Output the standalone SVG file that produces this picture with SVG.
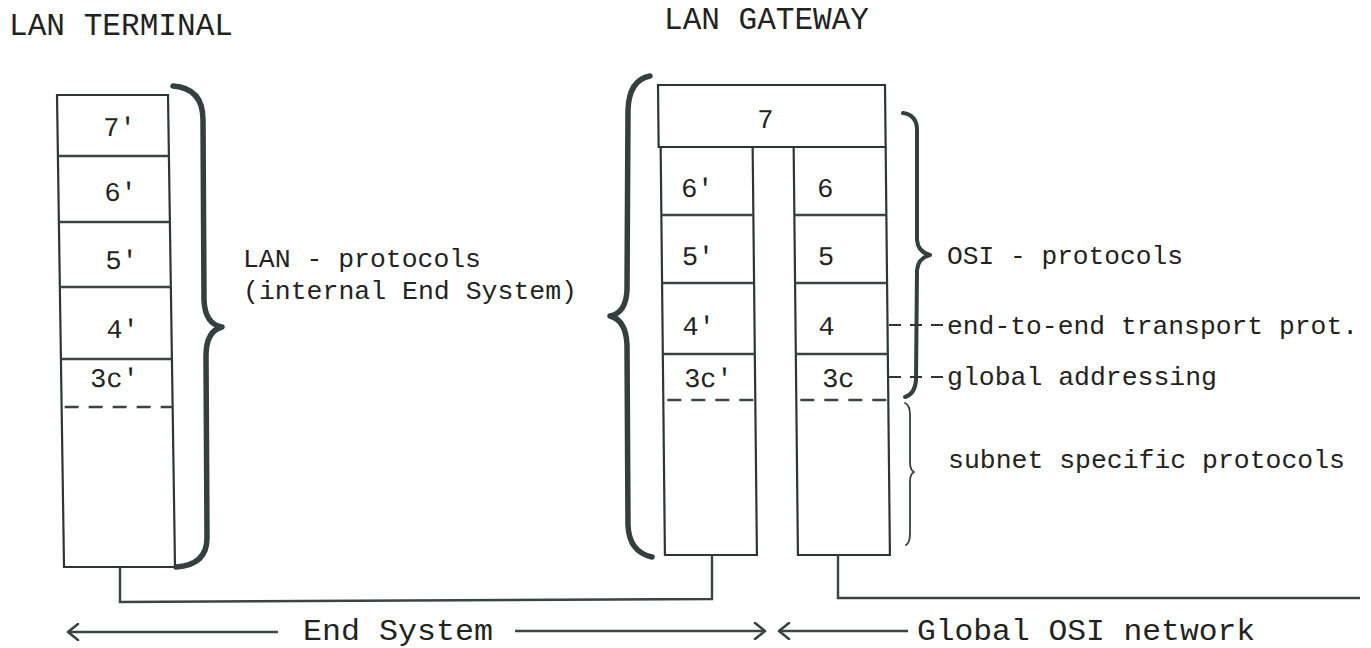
<svg xmlns="http://www.w3.org/2000/svg" width="1371" height="648" viewBox="0 0 1371 648">
  <style>
    .box { fill: none; stroke: #2e3635; stroke-width: 2.2; }
    .div { stroke: #3a4443; stroke-width: 2.6; }
    .dash { stroke: #3a4443; stroke-width: 2.4; stroke-dasharray: 14 10; }
    .brace { fill: none; stroke: #34403f; stroke-linecap: round; stroke-linejoin: round; }
    .wire { fill: none; stroke: #3a4443; stroke-width: 2.4; }
    .arrow { fill: none; stroke: #3a4443; stroke-width: 2.6; }
    .lead { stroke: #2e3635; stroke-width: 2.2; stroke-dasharray: 12 9; }
    text { font-family: "Liberation Mono", "DejaVu Sans Mono", monospace; fill: #1f2322; }
    .t26 { font-size: 26px; }
    .t27 { font-size: 27px; }
    .t31 { font-size: 31px; }
    .t30 { font-size: 30px; }
  </style>
  <defs>
    <marker id="head" viewBox="-12 -9 14 18" markerWidth="14" markerHeight="18" refX="0" refY="0" orient="auto" markerUnits="userSpaceOnUse">
      <path d="M-10,-8 L0,0 L-10,8" fill="none" stroke="#3a4443" stroke-width="2.6" stroke-linecap="round" stroke-linejoin="round"/>
    </marker>
  </defs>
  <rect width="1371" height="648" fill="#ffffff"/>

  <!-- titles -->
  <text id="title-terminal" class="t31" x="9" y="35" textLength="224" lengthAdjust="spacingAndGlyphs">LAN TERMINAL</text>
  <text id="title-gateway" class="t31" x="664" y="29" textLength="205" lengthAdjust="spacingAndGlyphs">LAN GATEWAY</text>

  <!-- LAN terminal protocol stack (slightly slanted like the typed original) -->
  <g id="terminal" transform="translate(0,95) skewX(0.85) translate(0,-95)">
    <rect class="box" x="57" y="95" width="111" height="472"/>
    <line class="div" x1="57" y1="156" x2="168" y2="156"/>
    <line class="div" x1="57" y1="222" x2="168" y2="222"/>
    <line class="div" x1="57" y1="287" x2="168" y2="287"/>
    <line class="div" x1="57" y1="359" x2="168" y2="359"/>
    <line class="dash" x1="60" y1="407" x2="168" y2="407"/>
    <text class="t27" x="103" y="136">7'</text>
    <text class="t27" x="103" y="201">6'</text>
    <text class="t27" x="103" y="269">5'</text>
    <text class="t27" x="103" y="338">4'</text>
    <text class="t27" x="86" y="387">3c'</text>
  </g>

  <!-- LAN gateway: shared layer 7 over two half-stacks -->
  <g id="gateway" transform="translate(0,85) skewX(0.6) translate(0,-85)">
    <rect class="box" x="658" y="85" width="227" height="62"/>
    <text class="t27" x="757" y="128">7</text>
    <g id="gateway-lan">
      <polyline class="box" points="660,147 660,555 752,555 752,147"/>
      <line class="div" x1="660" y1="215" x2="752" y2="215"/>
      <line class="div" x1="660" y1="283" x2="752" y2="283"/>
      <line class="div" x1="660" y1="354" x2="752" y2="354"/>
      <line class="dash" x1="664" y1="400" x2="752" y2="400"/>
      <text class="t27" x="680" y="197">6'</text>
      <text class="t27" x="680" y="265">5'</text>
      <text class="t27" x="680" y="335">4'</text>
      <text class="t27" x="681" y="387">3c'</text>
    </g>
    <g id="gateway-osi">
      <polyline class="box" points="793,147 793,555 885,555 885,147"/>
      <line class="div" x1="793" y1="215" x2="885" y2="215"/>
      <line class="div" x1="793" y1="283" x2="885" y2="283"/>
      <line class="div" x1="793" y1="354" x2="885" y2="354"/>
      <line class="dash" x1="797" y1="400" x2="885" y2="400"/>
      <text class="t27" x="816" y="197">6</text>
      <text class="t27" x="816" y="265">5</text>
      <text class="t27" x="816" y="335">4</text>
      <text class="t27" x="819" y="387">3c</text>
    </g>
  </g>

  <!-- braces and their labels -->
  <g id="lan-protocols">
    <path class="brace" stroke-width="5.5" d="M173,86 Q203,88 203,120 L204,300 Q205,324 222,327 Q206,331 206,356 L207,538 Q207,565 176,567"/>
    <text class="t26" x="243" y="267" textLength="238" lengthAdjust="spacingAndGlyphs">LAN - protocols</text>
    <text class="t26" x="243" y="299" textLength="334" lengthAdjust="spacingAndGlyphs">(internal End System)</text>
  </g>
  <g id="gateway-brace">
    <path class="brace" stroke-width="5.5" d="M650,76 Q629,80 628,110 L627,290 Q626,313 610,316 Q626,320 627,345 L628,525 Q629,552 652,557"/>
  </g>
  <g id="osi-protocols">
    <path class="brace" stroke-width="4" d="M903,113 Q917,115 917,130 L917,240 Q918,252 930,255 Q918,258 917,270 L916,380 Q915,394 905,397"/>
    <text class="t26" x="947" y="264" textLength="236" lengthAdjust="spacingAndGlyphs">OSI - protocols</text>
  </g>
  <g id="transport">
    <line class="lead" x1="889" y1="325" x2="944" y2="325"/>
    <text class="t26" x="947" y="334" textLength="411" lengthAdjust="spacingAndGlyphs">end-to-end transport prot.</text>
  </g>
  <g id="addressing">
    <line class="lead" x1="889" y1="377" x2="944" y2="377"/>
    <text class="t26" x="947" y="385" textLength="270" lengthAdjust="spacingAndGlyphs">global addressing</text>
  </g>
  <g id="subnet-protocols">
    <path class="brace" stroke-width="1.8" d="M905,403 Q910,405 910,415 L910,462 Q910,470 914,472 Q910,474 910,482 L910,533 Q910,543 906,545"/>
    <text class="t26" x="948" y="468" textLength="397" lengthAdjust="spacingAndGlyphs">subnet specific protocols</text>
  </g>

  <!-- physical connections -->
  <g id="connectors">
    <polyline class="wire" points="120,567 120,602 712,599 712,555"/>
    <polyline class="wire" points="838,555 838,598 1360,598"/>
  </g>

  <!-- extent of the end system and the global network -->
  <g id="extent">
    <line class="arrow" x1="278" y1="632" x2="68" y2="632" marker-end="url(#head)"/>
    <text class="t30" x="303" y="640" textLength="190" lengthAdjust="spacingAndGlyphs">End System</text>
    <line class="arrow" x1="515" y1="631" x2="765" y2="631" marker-end="url(#head)"/>
    <line class="arrow" x1="908" y1="631" x2="779" y2="631" marker-end="url(#head)"/>
    <text class="t30" x="917" y="640" textLength="338" lengthAdjust="spacingAndGlyphs">Global OSI network</text>
  </g>
</svg>
